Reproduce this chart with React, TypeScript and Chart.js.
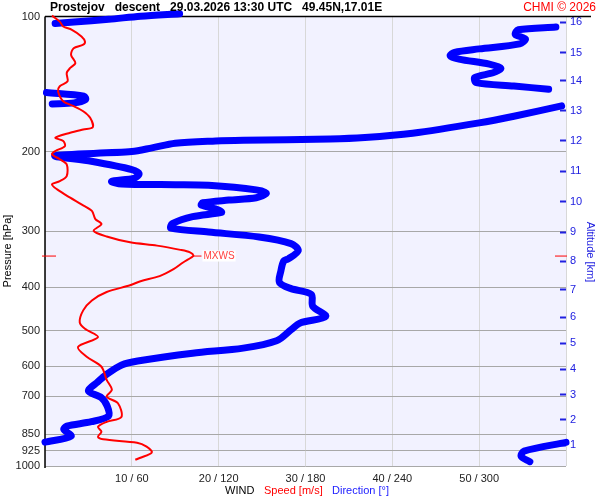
import React, { useEffect, useRef } from 'react';
import { Chart, registerables } from 'chart.js';

Chart.register(...registerables);

// ---- tick definitions ----
const pressureTicks = [100, 200, 300, 400, 500, 600, 700, 850, 925, 1000];
const speedTicks = [0, 10, 20, 30, 40, 50, 60];
const altitudeKm = [1, 2, 3, 4, 5, 6, 7, 8, 9, 10, 11, 12, 13, 14, 15, 16];
const altitudePressure = [898, 789, 695, 609, 533, 467, 405, 350, 302, 258, 221, 189, 162, 139, 120.5, 103];

// ---- wind speed profile (hPa, m/s) ----
const speedPressure = [
  99.5, 102.6, 105.2, 107, 110.7, 113.6, 115.5, 117.6, 121.6, 126.9, 130.1, 133.5, 139.3, 142.9, 146.6,
  154.3, 158.2, 162.4, 168, 176.3, 178.3, 181.3, 186, 189.2, 194.1, 199.1, 202.4, 207.7, 213.2, 226.4,
  232.3, 236.2, 242.4, 252.9, 261.6, 270.6, 282.2, 289.5, 299.6, 308.6, 317.9, 323.3, 330.4, 334.6, 340.2,
  344, 352.5, 364.8, 378, 388, 396.2, 410, 428.2, 450.5, 478.9, 495, 516.5, 543.2, 571.3, 601.3, 643.1,
  677, 700.8, 725.1, 777.6, 797.5, 818, 839.2, 860.8, 872.4, 887.5, 905.7, 933.5, 960, 968.5,
];
const speedValues = [
  0.8, 1.7, 2.1, 3.1, 4.2, 4.6, 4.4, 3.3, 3.0, 3.5, 2.9, 2.5, 2.6, 1.7, 1.5,
  2.1, 3.3, 4.4, 5.2, 5.5, 4.4, 2.9, 1.2, 2.1, 2.3, 1.2, 0.8, 1.7, 2.5, 2.5,
  1.7, 0.8, 1.4, 2.9, 4.2, 5.4, 5.8, 6.5, 5.6, 7.1, 9.8, 12.9, 15.6, 16.7, 17.1,
  16.8, 15.9, 14.8, 13.2, 11.0, 9.8, 7.1, 5.4, 4.4, 4.0, 4.6, 6.1, 3.8, 4.8, 6.5, 7.1,
  7.7, 7.1, 8.4, 8.8, 7.1, 6.1, 6.5, 6.1, 6.7, 10.6, 11.7, 12.3, 10.9, 10.4,
];

// ---- wind direction profile (hPa, degrees) ----
const directionPressure = [
  98.5, 99.8, 101.4, 102.8, 103.6,
  105.5, 107, 109.6, 112.1, 115, 118, 120.1, 122.2, 124.3, 127.6, 130.3, 133.2, 136.7, 140.3, 142.7, 145.1,
  147.6, 150.3, 152.9, 155.6, 156.4,
  158, 166.6, 172.4, 181.8, 185.8, 187.2, 188.4, 189.1, 191.3, 195.9, 199.7, 204,
  209.9, 219, 223.6, 228.7, 232.6, 235.9, 236.6, 237.4, 243, 247.3, 252.9, 256, 259.6, 262.6, 269.4, 272.7,
  278.7, 288.9, 295.5, 301.6, 309.3, 320, 331.6, 346.2, 349.7, 367.9, 390.5, 403, 415, 441, 464.6, 481,
  497.5, 526.5, 546.6, 561, 584, 596, 624, 652, 681, 704.7, 735.8, 774, 797, 815, 829, 858, 885,
  886, 927, 952, 978,
];
const directionValues = [
  93, 66, 44, 20, 7,
  353, 327, 325, 332, 328, 300, 283, 280, 286, 307, 315, 310, 297, 298, 324, 348,
  1, 27, 28, 20, 5,
  357, 324, 300, 254, 221, 197, 137, 118, 90, 74, 60, 7,
  32, 60, 65, 62, 46, 53, 90, 113, 146, 153, 146, 127, 109, 108, 120, 122,
  102, 88, 87, 113, 148, 170, 175, 168, 165, 163, 162, 170, 184, 185, 194, 176,
  170, 160, 137, 102, 64, 53, 43, 36, 30, 39, 43, 44, 32, 15, 13, 18, 0,
  360, 331, 329, 335,
];

const FONT = "'Liberation Sans', Arial, sans-serif";

const decorPlugin = {
  id: 'decor',
  beforeDraw(chart: any) {
    const { ctx, chartArea: a } = chart;
    ctx.save();
    ctx.fillStyle = '#ffffff';
    ctx.fillRect(0, 0, chart.width, chart.height);
    ctx.fillStyle = '#f2f2ff';
    ctx.fillRect(a.left, a.top, a.right - a.left, a.bottom - a.top);
    ctx.restore();
  },
  beforeDatasetsDraw(chart: any) {
    const { ctx, chartArea: a } = chart;
    ctx.save();
    ctx.strokeStyle = '#000000';
    ctx.lineWidth = 1.5;
    ctx.beginPath();
    ctx.moveTo(a.left, a.top);
    ctx.lineTo(chart.width - 9, a.top);
    ctx.moveTo(a.left, a.top);
    ctx.lineTo(a.left, a.bottom + 2);
    ctx.stroke();
    ctx.restore();
  },
  afterDatasetsDraw(chart: any) {
    const { ctx, chartArea: a } = chart;
    const xs = chart.scales.x;
    const ys = chart.scales.y;
    let mi = 0;
    for (let i = 1; i < speedValues.length; i++) if (speedValues[i] > speedValues[mi]) mi = i;
    const px = xs.getPixelForValue(speedValues[mi]);
    const py = ys.getPixelForValue(speedPressure[mi]);
    ctx.save();
    ctx.strokeStyle = '#ff0000';
    ctx.lineWidth = 1;
    ctx.beginPath();
    ctx.moveTo(a.left - 3, py + 0.5);
    ctx.lineTo(a.left + 11, py + 0.5);
    ctx.moveTo(a.right - 11, py + 0.5);
    ctx.lineTo(a.right + 1, py + 0.5);
    ctx.moveTo(px, py + 0.5);
    ctx.lineTo(px + 8, py + 0.5);
    ctx.stroke();
    ctx.font = `10px ${FONT}`;
    const w = ctx.measureText('MXWS').width;
    ctx.fillStyle = '#ffffff';
    ctx.fillRect(px + 9, py - 5, w + 2, 11);
    ctx.fillStyle = '#ff4040';
    ctx.textBaseline = 'middle';
    ctx.textAlign = 'left';
    ctx.fillText('MXWS', px + 10, py + 1);
    ctx.restore();
  },
  afterDraw(chart: any) {
    const { ctx } = chart;
    ctx.save();
    ctx.textBaseline = 'middle';
    // title
    ctx.fillStyle = '#000000';
    ctx.font = `bold 12px ${FONT}`;
    ctx.textAlign = 'left';
    ctx.fillText('Prostejov   descent   29.03.2026 13:30 UTC   49.45N,17.01E', 50, 8);
    ctx.fillStyle = '#ff0000';
    ctx.font = `12px ${FONT}`;
    ctx.textAlign = 'right';
    ctx.fillText('CHMI © 2026', 596, 8);
    // bottom legend line
    ctx.font = `11px ${FONT}`;
    ctx.textAlign = 'left';
    ctx.fillStyle = '#000000';
    ctx.fillText('WIND', 225, 491);
    ctx.fillStyle = '#ff0000';
    ctx.fillText('Speed [m/s]', 264, 491);
    ctx.fillStyle = '#2020ff';
    ctx.fillText('Direction [°]', 332, 491);
    // axis titles
    ctx.fillStyle = '#000000';
    ctx.textAlign = 'center';
    ctx.save();
    ctx.translate(8, 251);
    ctx.rotate(-Math.PI / 2);
    ctx.fillText('Pressure [hPa]', 0, 0);
    ctx.restore();
    ctx.fillStyle = '#2020e0';
    ctx.save();
    ctx.translate(590, 252);
    ctx.rotate(Math.PI / 2);
    ctx.fillText('Altitude [km]', 0, 0);
    ctx.restore();
    ctx.restore();
  },
};

export default function App() {
  const ref = useRef<HTMLCanvasElement | null>(null);
  useEffect(() => {
    document.body.style.margin = '0';
    const canvas = ref.current;
    if (!canvas) return;

    const speedData = speedValues.map((v, i) => ({ x: v, y: speedPressure[i] }));
    const dirData: any[] = [];
    for (let i = 0; i < directionValues.length; i++) {
      if (i > 0 && Math.abs(directionValues[i] - directionValues[i - 1]) > 180) {
        dirData.push({ x: NaN, y: NaN });
      }
      dirData.push({ x: directionValues[i], y: directionPressure[i] });
    }

    const chart = new Chart(canvas, {
      type: 'scatter',
      data: {
        datasets: [
          {
            data: speedData,
            xAxisID: 'x',
            yAxisID: 'y',
            showLine: true,
            borderColor: '#ff0000',
            borderWidth: 2,
            pointRadius: 0,
            tension: 0.3,
            borderJoinStyle: 'round',
            clip: false as any,
            order: 0,
          },
          {
            data: dirData,
            xAxisID: 'x2',
            yAxisID: 'y',
            showLine: true,
            spanGaps: false,
            borderColor: '#0000ff',
            borderWidth: 7,
            pointRadius: 0,
            tension: 0.3,
            borderCapStyle: 'round',
            borderJoinStyle: 'round',
            clip: false as any,
            order: 1,
          },
        ],
      },
      options: {
        animation: false,
        responsive: false,
        devicePixelRatio: 1,
        layout: { padding: { top: 15, left: 0, right: 0, bottom: 0 } },
        font: { family: FONT, size: 11 },
        elements: { line: { capBezierPoints: false } },
        plugins: {
          legend: { display: false },
          tooltip: { enabled: false },
          title: { display: false },
        },
        events: [],
        scales: {
          x: {
            type: 'linear',
            position: 'bottom',
            min: 0,
            max: 60,
            afterBuildTicks: (s: any) => {
              s.ticks = speedTicks.map((v) => ({ value: v }));
            },
            afterFit: (s: any) => {
              s.height = 34;
            },
            grid: { color: '#d8d8d8', lineWidth: 1, drawTicks: false },
            border: { display: false },
            ticks: {
              autoSkip: false,
              maxRotation: 0,
              padding: 6,
              color: '#222222',
              font: { family: FONT, size: 11 },
              callback: (v: any) => (v === 0 || v === 60 ? '' : `${v} / ${v * 6}`),
            },
          },
          x2: {
            type: 'linear',
            display: false,
            min: 0,
            max: 360,
          },
          y: {
            type: 'logarithmic',
            position: 'left',
            reverse: true,
            min: 100,
            max: 1000,
            afterBuildTicks: (s: any) => {
              s.ticks = pressureTicks.map((v) => ({ value: v }));
            },
            afterFit: (s: any) => {
              s.width = 45;
            },
            grid: { color: '#a8a8a8', lineWidth: 1, drawTicks: false },
            border: { display: false },
            ticks: {
              autoSkip: false,
              padding: 5,
              color: '#222222',
              font: { family: FONT, size: 11 },
              callback: (v: any) => String(v),
            },
          },
          y2: {
            type: 'logarithmic',
            position: 'right',
            reverse: true,
            min: 100,
            max: 1000,
            afterBuildTicks: (s: any) => {
              s.ticks = altitudePressure.map((v) => ({ value: v }));
            },
            afterFit: (s: any) => {
              s.width = 34;
            },
            grid: {
              drawOnChartArea: false,
              drawTicks: true,
              tickLength: -6,
              tickColor: '#2020e0',
              tickWidth: 2,
            },
            border: { display: false },
            ticks: {
              autoSkip: false,
              padding: 10,
              color: '#2020e0',
              font: { family: FONT, size: 11 },
              callback: (_v: any, i: number) => String(altitudeKm[i]),
            },
          },
        },
      },
      plugins: [decorPlugin],
    } as any);

    return () => {
      chart.destroy();
    };
  }, []);

  return <canvas ref={ref} width={600} height={500} style={{ display: 'block', width: 600, height: 500 }} />;
}
